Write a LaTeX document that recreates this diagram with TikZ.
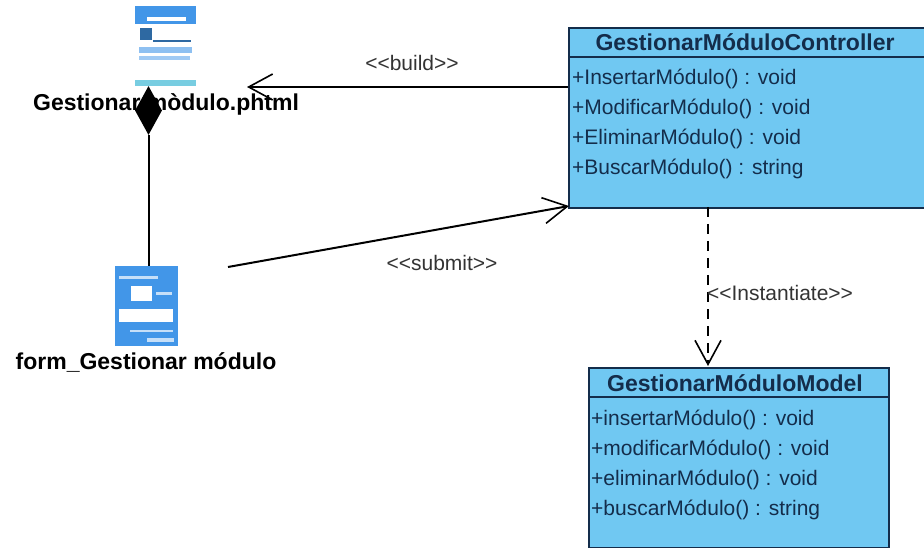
\documentclass[tikz,border=0pt]{standalone}
\usepackage{fontspec}
\setmainfont{Liberation Sans}
\usepackage{xcolor}
\usetikzlibrary{positioning,shapes.geometric,arrows.meta}
\definecolor{classfill}{RGB}{112,200,242}
\definecolor{classline}{RGB}{20,45,75}
\definecolor{iconblue}{RGB}{66,150,232}
\definecolor{iconpale}{RGB}{120,205,225}
\tikzset{%
  classbox/.style={draw=classline,fill=classfill,line width=1.8pt,anchor=north west,inner sep=0pt},
  classname/.style={color=classline,font=\fontsize{23}{25}\selectfont\bfseries,anchor=center,inner sep=0pt},
  op/.style={color=classline,font=\fontsize{21}{23}\selectfont,anchor=west,inner sep=0pt},
  stereo/.style={color=black!80,font=\fontsize{21}{23}\selectfont,inner sep=0pt},
  pagename/.style={font=\fontsize{23}{25}\selectfont\bfseries,inner sep=0pt},
  link/.style={line width=2pt,-{Straight Barb[length=24pt,width=26pt,line width=1.6pt]}},
  dep/.style={line width=1.4pt,dash pattern=on 10pt off 7pt,-{Straight Barb[length=24pt,width=26pt,line width=1.6pt,
      line cap=butt]}}
}

\begin{document}
\begin{tikzpicture}[x=1pt,y=-1pt]
  \useasboundingbox (0,0) rectangle (924,548);

  % page icon
  \node[minimum width=61pt,minimum height=80pt,inner sep=0pt] (page) at (165.5,46) {};
  \fill[iconblue] (135,6) rectangle (196,24);
  \fill[white] (147,17) rectangle (186,21);
  \fill[iconblue!70!black] (140,28) rectangle (152,40);
  \fill[iconblue!70!black] (153,40) rectangle (191,42);
  \fill[iconblue!60] (139,47) rectangle (192,53);
  \fill[iconblue!50] (139,56) rectangle (190,60);
  \fill[iconpale] (135,80) rectangle (196,86);

  % form icon
  \node[fill=iconblue,minimum width=63pt,minimum height=80pt,inner sep=0pt,below=180pt of page.south,xshift=-19pt] (form) {};
  \fill[white] (131,286) rectangle (152,301);
  \fill[white] (119,309) rectangle (173,322);
  \fill[white!70!iconblue] (119,276) rectangle (158,279);
  \fill[white!70!iconblue] (156,292) rectangle (172,295);
  \fill[white!70!iconblue] (130,330) rectangle (173,332);
  \fill[white!70!iconblue] (147,338) rectangle (174,342);

  \node[pagename] (pagetxt) at (166,104) {Gestionar mòdulo.phtml};
  \node[pagename] (formtxt) at (146,362) {form\_Gestionar módulo};

  % controller
  \node[classbox,minimum width=360pt,minimum height=180pt] (ctrl) at (568,27) {};
  \node[classname] (ctrlname) at (745,42.5) {GestionarMóduloController};
  \draw[classline,line width=1.8pt] (ctrl.west |- 0,57) -- (ctrl.east |- 0,57);
  \node[op] (c1) at (572,79) {+InsertarMódulo() : void};
  \node[op,below=12pt of c1.west,anchor=west,yshift=-18pt] (c2) {+ModificarMódulo() : void};
  \node[op,below=12pt of c2.west,anchor=west,yshift=-18pt] (c3) {+EliminarMódulo() : void};
  \node[op,below=12pt of c3.west,anchor=west,yshift=-18pt] (c4) {+BuscarMódulo() : string};

  % model
  \node[classbox,minimum width=300pt,minimum height=180pt] (model) at (588,367) {};
  \node[classname] (modelname) at (735,383.5) {GestionarMóduloModel};
  \draw[classline,line width=1.8pt] (model.west |- 0,397) -- (model.east |- 0,397);
  \node[op] (m1) at (591,420) {+insertarMódulo() : void};
  \node[op,below=12pt of m1.west,anchor=west,yshift=-18pt] (m2) {+modificarMódulo() : void};
  \node[op,below=12pt of m2.west,anchor=west,yshift=-18pt] (m3) {+eliminarMódulo() : void};
  \node[op,below=12pt of m3.west,anchor=west,yshift=-18pt] (m4) {+buscarMódulo() : string};

  % connectors
  \coordinate (ctrlbuild) at (568,87);
  \coordinate (pagein) at (247,87);
  \coordinate (formout) at (228,267);
  \coordinate (ctrlsubmit) at (569,206);
  \coordinate (ctrlout) at (708,207);
  \coordinate (modelin) at (708,366);
  \draw[link] (ctrlbuild) -- (pagein);
  \draw[link] (formout) -- (ctrlsubmit);
  \draw[dep] (ctrlout) -- (modelin);

  \node[fill=black,diamond,inner sep=0pt,minimum width=27pt,minimum height=49pt] (whole) at (148.5,110.5) {};
  \draw[line width=2pt] (whole.south) -- (form.north -| whole.south);

  \node[stereo] (lbuild) at (412,63) {<{}<build>{}>};
  \node[stereo] (lsubmit) at (442,263) {<{}<submit>{}>};
  \node[stereo] (linst) at (780,293) {<{}<Instantiate>{}>};
\end{tikzpicture}
\end{document}
